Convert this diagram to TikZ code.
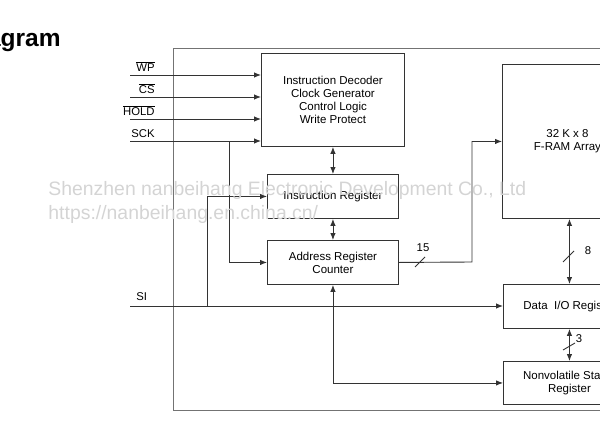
\documentclass[tikz,border=0pt]{standalone}
\usepackage{fontspec}
\setmainfont{Liberation Sans}
\usetikzlibrary{arrows.meta}
\newcommand{\ovl}[1]{$\overline{\hbox{#1}}$}
\begin{document}
\begin{tikzpicture}[x=1pt,y=-1pt,
  line width=0.9pt,
  blk/.style={draw=black!80, fill=white, anchor=north west, align=center, inner sep=0pt,
    font=\fontsize{11.5}{13}\selectfont},
  wire/.style={draw=black!80},
  arr/.style={wire,-{Latex[length=7pt,width=5.5pt]}},
  barr/.style={wire,{Latex[length=7pt,width=5.5pt]}-{Latex[length=7pt,width=5.5pt]}},
  lbl/.style={font=\fontsize{11.3}{12}\selectfont, inner sep=0pt},
  wm/.style={font=\fontsize{19.4}{21}\selectfont, text=black!17, anchor=west, inner sep=0pt}]
\useasboundingbox (0,0) rectangle (600,442);
\clip (0,0) rectangle (600,442);
% title
\node[font=\bfseries\fontsize{24.5}{26}\selectfont, anchor=base east, inner sep=0pt] (title) at (61,46) {Diagram};
% outer frame
\draw[draw=black!55, line width=1pt] (173,48) rectangle (660,410);
% blocks
\node[blk, minimum width=143pt, minimum height=93pt] (dec) at (261,53)
  {Instruction Decoder\\Clock Generator\\Control Logic\\Write Protect};
\node[blk, minimum width=131pt, minimum height=44pt] (ir) at (267,174) {Instruction Register};
\node[blk, minimum width=131pt, minimum height=44pt] (ar) at (267,240) {Address Register\\Counter};
\node[blk, minimum width=130pt, minimum height=154pt] (fram) at (502,64) {32 K x 8\\F-RAM Array};
\node[blk, minimum width=132pt, minimum height=44pt] (dio) at (503,284) {Data~~I/O Register};
\node[blk, minimum width=132pt, minimum height=43pt] (nsr) at (503,361) {Nonvolatile Status\\Register};
% inputs
\coordinate (wp) at (130,75);
\coordinate (cs) at (130,97);
\coordinate (hold) at (130,119);
\coordinate (sck) at (130,141);
\coordinate (si) at (130,306);
\draw[arr] (wp) -- (wp -| dec.west);
\draw[arr] (cs) -- (cs -| dec.west);
\draw[arr] (hold) -- (hold -| dec.west);
\draw[arr] (sck) -- (sck -| dec.west);
\node[lbl, anchor=base east] (lwp) at (155,71) {\ovl{WP}};
\node[lbl, anchor=base east] (lcs) at (155,93) {\ovl{CS}};
\node[lbl, anchor=base east] (lhold) at (155,115) {\ovl{HOLD}};
\node[lbl, anchor=base east] (lsck) at (155,137) {SCK};
\node[lbl, anchor=base west] (lsi) at (136,300) {SI};
% SCK branch to address register
\coordinate (sckb) at (229,141);
\draw[arr] (sckb) |- (ar.west);
% SI to data I/O, branch to instruction register
\draw[arr] (si) -- (si -| dio.west);
\coordinate (sib) at (207,306);
\draw[arr] (sib) |- (ir.west);
% internal vertical arrows
\draw[barr] (ir.north) -- (dec.south);
\draw[barr] (ar.north) -- (ir.south);
\draw[barr] (ar.south) |- (nsr.west);
% address bus to F-RAM
\coordinate (bus) at (472,262);
\draw[arr] (ar.east) -- (bus) |- (fram.west);
\draw[wire] (415,267) -- (425,257);
\node[lbl] (l15) at (423,248) {15};
% data bus
\draw[barr] (dio.north) -- (dio.north |- fram.south);
\draw[wire] (563,262) -- (574,251);
\node[lbl] (l8) at (588,251) {8};
\draw[barr] (nsr.north) -- (dio.south);
\draw[wire] (563,350) -- (575,343);
\node[lbl] (l3) at (579,339) {3};
% watermark
\node[wm] (wm1) at (48,190) {Shenzhen nanbeihang Electronic Development Co., Ltd};
\node[wm] (wm2) at (48,214) {https://nanbeihang.en.china.cn/};
\end{tikzpicture}
\end{document}
